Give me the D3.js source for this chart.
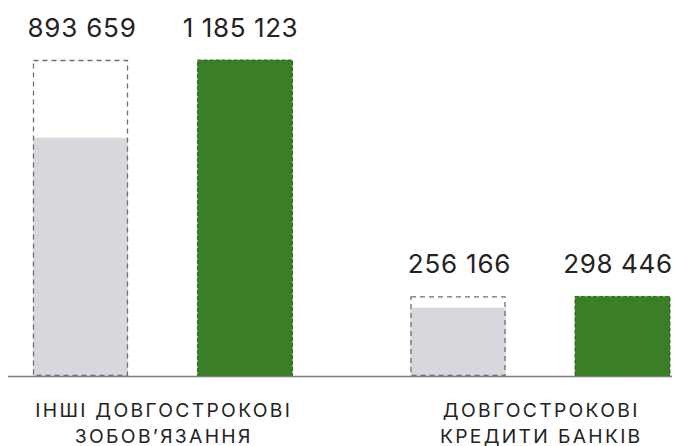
<!DOCTYPE html>
<html>
<head>
<meta charset="utf-8">
<script src="https://cdn.jsdelivr.net/npm/d3@7"></script>
<style>
  html, body { margin: 0; padding: 0; background: #fff; }
  svg { display: block; }
  text { font-family: Inter, "Open Sans", "Noto Sans", sans-serif; fill: #232323; }
</style>
</head>
<body>
<svg id="chart" width="680" height="446"></svg>
<script>
// Categories (two lines each) and the two periods compared
const categories = ["ІНШІ ДОВГОСТРОКОВІ|ЗОБОВ’ЯЗАННЯ", "ДОВГОСТРОКОВІ|КРЕДИТИ БАНКІВ"];
const previousValues = [893659, 256166];
const currentValues = [1185123, 298446];

const baseY = 376, topY = 60;
const svg = d3.select("#chart");

const fmtSpace = v => d3.format(",")(v).replace(/,/g, " ");

const y = d3.scaleLinear()
  .domain([0, d3.max(currentValues)])
  .range([baseY, topY]);

// group band positions
const x0 = d3.scaleBand().domain(d3.range(categories.length)).range([33, 670]).paddingInner(0.3126).paddingOuter(0);
const x1 = d3.scaleBand().domain(["prev", "cur"]).range([0, x0.bandwidth()]).paddingInner(0.4225).paddingOuter(0);

const groups = svg.selectAll("g.grp")
  .data(categories.map((c, i) => ({ c, i, prev: previousValues[i], cur: currentValues[i] })))
  .join("g")
  .attr("class", "grp")
  .attr("transform", d => `translate(${x0(d.i)},0)`);

const bw = x1.bandwidth();

// previous period: grey fill with a dashed outline at the current level
groups.append("rect")
  .attr("x", x1("prev")).attr("width", bw)
  .attr("y", d => y(d.prev)).attr("height", d => baseY - y(d.prev))
  .attr("fill", "#d7d7dd");
groups.append("rect")
  .attr("x", x1("prev") + 0.5).attr("width", bw - 1)
  .attr("y", d => y(d.cur) + 0.5).attr("height", d => baseY - y(d.cur) - 1)
  .attr("fill", "none")
  .attr("stroke", "#6e6e6e")
  .attr("stroke-width", 1.3)
  .attr("stroke-dasharray", "5,4");

// current period: green bar
groups.append("rect")
  .attr("x", x1("cur")).attr("width", bw)
  .attr("y", d => y(d.cur)).attr("height", d => baseY - y(d.cur))
  .attr("fill", "#3a7f25")
  .attr("stroke", "#2f6a1c")
  .attr("stroke-width", 1)
  .attr("stroke-dasharray", "4,2");

// value labels
groups.append("text")
  .attr("x", x1("prev") + bw / 2 + 1.5)
  .attr("y", d => y(d.cur) - 23)
  .attr("text-anchor", "middle")
  .attr("font-size", 26)
  .attr("letter-spacing", 0.8)
  .text(d => fmtSpace(d.prev));
groups.append("text")
  .attr("x", x1("cur") + bw / 2 - 4.5)
  .attr("y", d => y(d.cur) - 23)
  .attr("text-anchor", "middle")
  .attr("font-size", 26)
  .attr("letter-spacing", 0.6)
  .text(d => fmtSpace(d.cur));

// baseline
svg.append("line")
  .attr("x1", 8).attr("x2", 672)
  .attr("y1", baseY + 0.5).attr("y2", baseY + 0.5)
  .attr("stroke", "#7d7d82").attr("stroke-width", 1.5);

// category labels
groups.each(function(d) {
  const g = d3.select(this);
  const cx = x0.bandwidth() / 2 + 1;
  d.c.split("|").forEach((line, k) => {
    g.append("text")
      .attr("x", cx)
      .attr("y", 417 + k * 25.5)
      .attr("text-anchor", "middle")
      .attr("font-size", 19.3)
      .attr("letter-spacing", 2.3)
      .text(line);
  });
});
</script>
</body>
</html>
